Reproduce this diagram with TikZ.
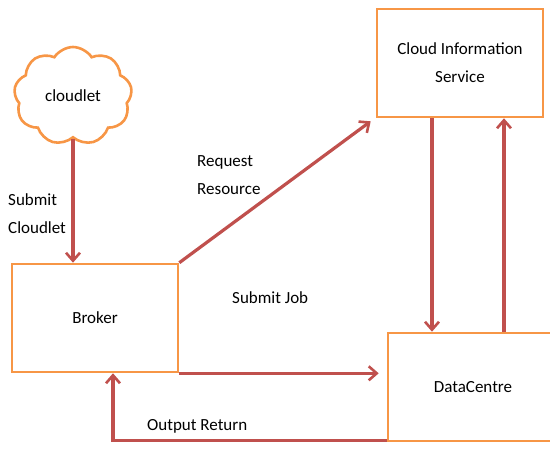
\documentclass[tikz,border=0pt]{standalone}
\usepackage{fontspec}
\setmainfont{Carlito}
\usetikzlibrary{shapes.symbols,arrows.meta}
\definecolor{orng}{RGB}{247,150,70}
\definecolor{arr}{RGB}{192,80,77}
\begin{document}
\begin{tikzpicture}[x=1pt,y=-1pt,
  box/.style={draw=orng,line width=2.6pt,fill=white,inner sep=0pt,align=center,font=\fontsize{17}{28}\selectfont},
  con/.style={draw=arr,line width=3.2pt,-{Straight Barb[length=8pt,width=14pt,line width=2.6pt]}},
  lbl/.style={font=\fontsize{17}{28}\selectfont,align=left,inner sep=0pt}]
\useasboundingbox (0,0) rectangle (550,450);
\node[box,cloud,cloud puffs=9,cloud puff arc=115,aspect=1.2,minimum width=118pt,minimum height=98pt] (cl) at (73,96) {cloudlet};
\node[box,minimum width=166pt,minimum height=108pt] (cis) at (460,63) {Cloud Information\\Service};
\node[box,minimum width=166pt,minimum height=108pt] (br) at (95,318) {Broker};
\node[box,minimum width=170pt,minimum height=108pt] (dc) at (473,387) {DataCentre};
\draw[con] (cl.south) -- (br.north -| cl.south);
\draw[con] (br.north east) -- ([xshift=-5pt,yshift=-3pt]cis.south west);
\draw[con] (cis.south -| 432,0) -- (dc.north -| 432,0);
\draw[con] (dc.north -| 504,0) -- (cis.south -| 504,0);
\draw[con] (br.south east) -- ([xshift=-8pt]dc.west |- br.south east);
\draw[con] ([yshift=2pt]dc.south west) -| (br.south -| 113,0);
\node[lbl,anchor=north west] (l1) at (8,193) {Submit\\Cloudlet};
\node[lbl,anchor=north west] (l2) at (197,155) {Request\\Resource};
\node[lbl,anchor=north west] (l3) at (232,291) {Submit Job};
\node[lbl,anchor=north west] (l4) at (147,419) {Output Return};
\end{tikzpicture}
\end{document}
